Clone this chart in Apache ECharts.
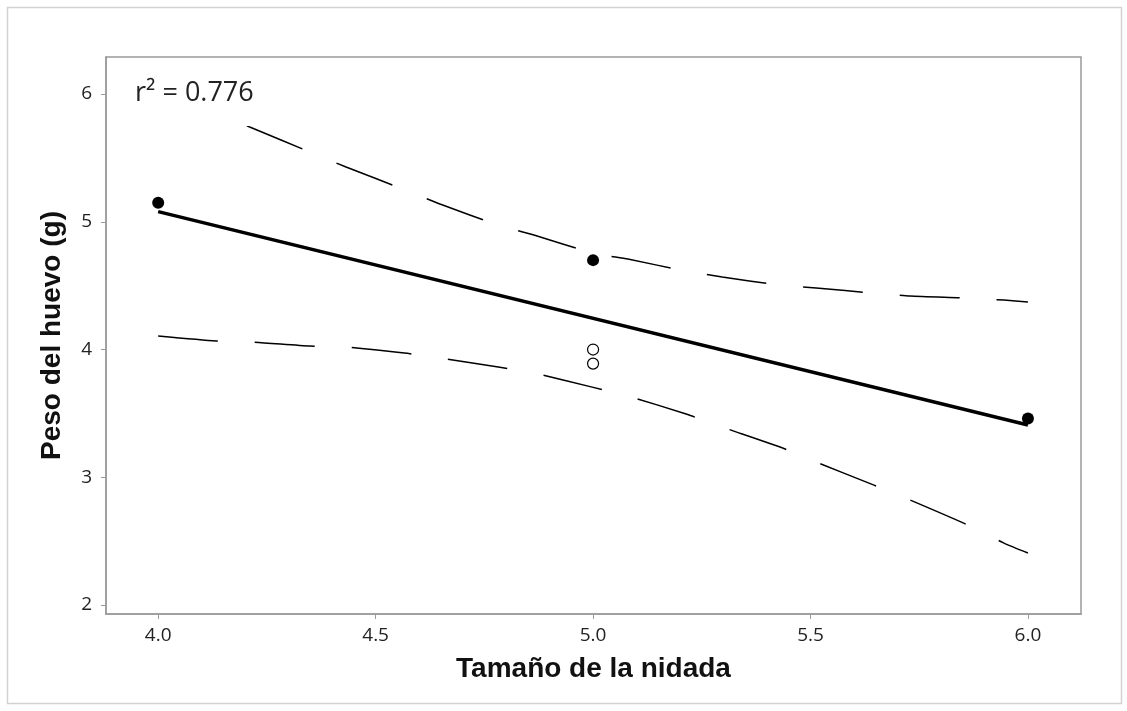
<!DOCTYPE html>
<html>
<head>
<meta charset="utf-8">
<script src="https://cdn.jsdelivr.net/npm/echarts@6/dist/echarts.min.js"></script>
<style>
html,body{margin:0;padding:0;background:#fff;}
#chart{width:1127px;height:711px;}
</style>
</head>
<body>
<div id="chart"></div>
<script>
// Tick labels
const xTicks = [4.0, 4.5, 5.0, 5.5, 6.0];
const yTicks = [2, 3, 4, 5, 6];

// Observed points
const filledX = [4, 5, 6];
const filledY = [5.15, 4.70, 3.46];
const openX = [5, 5];
const openY = [4.00, 3.89];

// Fitted regression line
const fitX = [4, 6];
const fitY = [5.08, 3.41];

// Upper band
const upperX = [4.00, 4.10, 4.216, 4.349, 4.432, 4.563, 4.648, 4.782, 4.864, 5.00, 5.080, 5.214, 5.297, 5.430, 5.513, 5.646, 5.729, 5.862, 5.945, 6.00];
const upperY = [6.06, 5.90, 5.734, 5.546, 5.429, 5.256, 5.139, 4.975, 4.896, 4.755, 4.708, 4.614, 4.568, 4.505, 4.481, 4.442, 4.419, 4.403, 4.387, 4.372];

// Lower band
const lowerX = [4.00, 4.133, 4.216, 4.349, 4.432, 4.566, 4.648, 4.782, 4.864, 4.998, 5.080, 5.214, 5.297, 5.430, 5.513, 5.646, 5.729, 5.862, 5.945, 6.00];
const lowerY = [4.106, 4.067, 4.059, 4.027, 4.020, 3.973, 3.933, 3.863, 3.816, 3.706, 3.636, 3.495, 3.393, 3.237, 3.119, 2.939, 2.822, 2.626, 2.485, 2.407];

const zip = (a, b) => a.map((v, i) => [v, b[i]]);

const chart = echarts.init(document.getElementById('chart'), null, {renderer: 'canvas'});
const tickColor = '#9a9a9a';
const labelFont = {fontFamily: 'Open Sans', fontSize: 19, color: '#222'};
const nameFont = {fontFamily: 'Liberation Sans', fontSize: 28, fontWeight: 'bold', color: '#111'};

chart.setOption({
  animation: false,
  backgroundColor: '#fff',
  title: {
    text: 'r² = 0.776',
    left: 131,
    top: 66,
    backgroundColor: '#fff',
    padding: [8, 4, 14, 4],
    textStyle: {fontFamily: 'Open Sans', fontSize: 27, fontWeight: 'normal', color: '#222', lineHeight: 38},
    z: 10
  },
  graphic: [{
    type: 'rect',
    shape: {x: 7.5, y: 7.5, width: 1114, height: 696},
    style: {fill: 'none', stroke: '#d2d2d2', lineWidth: 1.5},
    silent: true,
    z: -1
  }],
  grid: {
    left: 106, right: 46, top: 57, bottom: 97,
    show: true, borderColor: tickColor, borderWidth: 1.5, backgroundColor: '#fff'
  },
  xAxis: {
    type: 'value',
    min: 3.88, max: 6.122,
    name: 'Tamaño de la nidada',
    nameLocation: 'middle',
    nameGap: 41,
    nameTextStyle: nameFont,
    axisLine: {show: true, lineStyle: {color: tickColor, width: 1.5}},
    axisTick: {show: true, inside: false, length: 5, lineStyle: {color: tickColor}, customValues: xTicks},
    axisLabel: Object.assign({margin: 12, customValues: xTicks, formatter: v => v.toFixed(1)}, labelFont),
    splitLine: {show: false}
  },
  yAxis: {
    type: 'value',
    min: 1.93, max: 6.29,
    name: 'Peso del huevo (g)',
    nameLocation: 'middle',
    nameGap: 40,
    nameTextStyle: nameFont,
    axisLine: {show: true, lineStyle: {color: tickColor, width: 1.5}},
    axisTick: {show: true, inside: false, length: 5, lineStyle: {color: tickColor}, customValues: yTicks},
    axisLabel: Object.assign({margin: 14, customValues: yTicks, formatter: v => String(v)}, labelFont),
    splitLine: {show: false}
  },
  series: [
    {
      type: 'line', data: zip(upperX, upperY), symbol: 'none', smooth: 0.2,
      lineStyle: {color: '#000', width: 1.5, type: [60, 37]}, z: 2
    },
    {
      type: 'line', data: zip(lowerX, lowerY), symbol: 'none', smooth: 0.2,
      lineStyle: {color: '#000', width: 1.5, type: [60, 37]}, z: 2
    },
    {
      type: 'line', data: zip(fitX, fitY), symbol: 'none',
      lineStyle: {color: '#000', width: 3.5}, z: 3
    },
    {
      type: 'scatter', data: zip(filledX, filledY), symbol: 'circle', symbolSize: 12,
      itemStyle: {color: '#000', opacity: 1}, z: 4
    },
    {
      type: 'scatter', data: zip(openX, openY), symbol: 'circle', symbolSize: 11,
      itemStyle: {color: '#fff', borderColor: '#000', borderWidth: 1.2, opacity: 1}, z: 4
    }
  ]
});
</script>
</body>
</html>
